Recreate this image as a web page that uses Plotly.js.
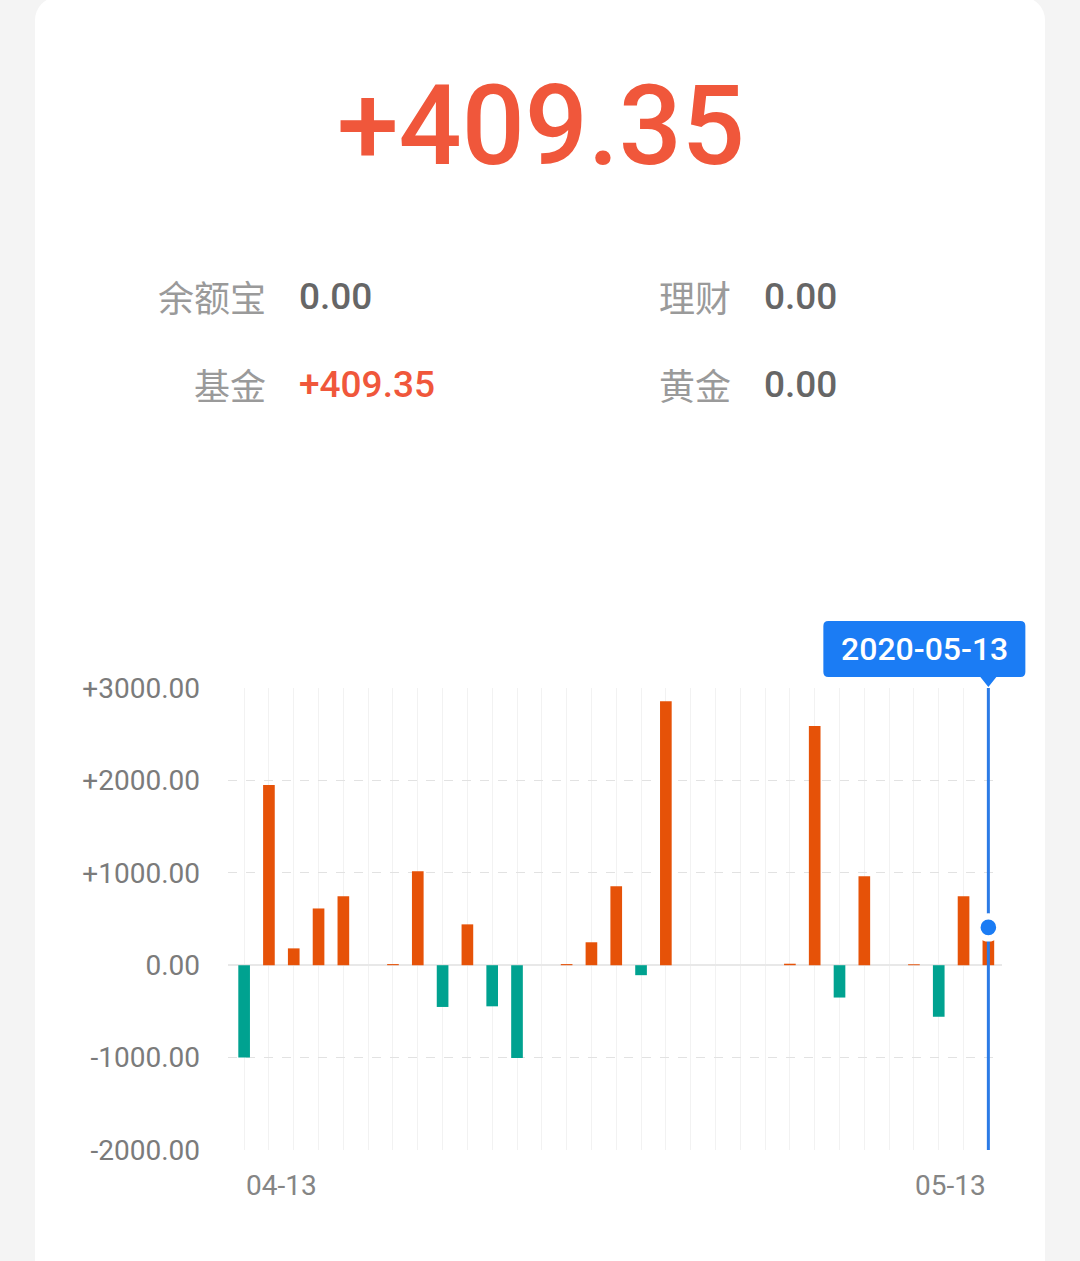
<!DOCTYPE html>
<html>
<head>
<meta charset="utf-8">
<script src="https://cdn.plot.ly/plotly-3.0.1.min.js"></script>
<style>
  html, body { margin: 0; padding: 0; background: #f4f4f4; }
  body { width: 1080px; height: 1261px; position: relative; overflow: hidden; }
  #card { position: absolute; left: 35px; top: -3px; width: 1010px; height: 1300px; background: #ffffff; border-radius: 23px; }
  #chart { position: absolute; left: 0; top: 0; width: 1080px; height: 1261px; }
</style>
</head>
<body>
<div id="card"></div>
<div id="chart"></div>
<script>
// ---- data ----
const dates = ["2020-04-13","2020-04-14","2020-04-15","2020-04-16","2020-04-17","2020-04-18","2020-04-19",
               "2020-04-20","2020-04-21","2020-04-22","2020-04-23","2020-04-24","2020-04-25","2020-04-26",
               "2020-04-27","2020-04-28","2020-04-29","2020-04-30","2020-05-01","2020-05-02","2020-05-03",
               "2020-05-04","2020-05-05","2020-05-06","2020-05-07","2020-05-08","2020-05-09","2020-05-10",
               "2020-05-11","2020-05-12","2020-05-13"];
const dailyProfit = [-1000, 1950, 182, 614, 746, null, 12,
                     1018, -452, 442, -445, -1003, null, 12,
                     248, 854, -108, 2856, null, null, null,
                     null, 16, 2588, -350, 962, null, 10,
                     -558, 746, 409.35];
const yTickVals = [-2000, -1000, 0, 1000, 2000, 3000];
const yTickText = ["-2000.00", "-1000.00", "0.00", "+1000.00", "+2000.00", "+3000.00"];
const xTickText = ["04-13", "05-13"];
const totalText = "+409.35";
const itemLabels = ["余额宝", "理财", "基金", "黄金"];
const itemValues = ["0.00", "0.00", "+409.35", "0.00"];
const selectedLabel = "2020-05-13";

// ---- styles / layout geometry ----
const W = 1080, H = 1261;
const M = { l: 228, r: 78, t: 688, b: 111 };
const PW = W - M.l - M.r, PH = H - M.t - M.b;
const px = x => (x - M.l) / PW;
const py = y => (M.t + PH - y) / PH;

const UP = '#e65208', DOWN = '#00a290', RED = '#f0573b', BLUE = '#1b7cf4';
const FONT = 'Roboto, "Noto Sans CJK SC", sans-serif';
const CJK = '"Noto Sans CJK SC", Roboto, sans-serif';

const lastIdx = dates.length - 1;
const lastDate = dates[lastIdx];
const lastVal = dailyProfit[lastIdx];
const yMin = yTickVals[0], yMax = yTickVals[yTickVals.length - 1];
const xRange = [-0.65, lastIdx + 0.55];
const lastPaperX = (lastIdx - xRange[0]) / (xRange[1] - xRange[0]);

const barColors = dailyProfit.map(v => (v !== null && v < 0) ? DOWN : UP);

const traces = [
  {
    type: 'bar', x: dates, y: dailyProfit,
    marker: { color: barColors, line: { width: 0 } },
    hoverinfo: 'skip'
  },
  {
    type: 'scatter', mode: 'lines', x: [lastDate, lastDate], y: [yMin, yMax],
    line: { color: '#2b7be6', width: 3 }, hoverinfo: 'skip'
  },
  {
    type: 'scatter', mode: 'markers', x: [lastDate], y: [lastVal],
    marker: { size: 22, color: BLUE, line: { color: '#ffffff', width: 6.4 } },
    cliponaxis: false, hoverinfo: 'skip'
  }
];

const annotations = [];
// big total
annotations.push({ xref: 'paper', yref: 'paper', x: px(541), y: py(126), xanchor: 'center', yanchor: 'middle',
  text: totalText, showarrow: false, font: { family: FONT, size: 111, weight: 500, color: RED } });
// summary items
const itemPos = [
  { lx: 268, vx: 297, y: 296 },
  { lx: 733, vx: 762, y: 296 },
  { lx: 268, vx: 297, y: 384 },
  { lx: 733, vx: 762, y: 384 }
];
itemLabels.forEach((lab, i) => {
  const p = itemPos[i];
  annotations.push({ xref: 'paper', yref: 'paper', x: px(p.lx), y: py(p.y), xanchor: 'right', yanchor: 'middle',
    text: lab, showarrow: false, font: { family: CJK, size: 36, color: '#9a9a9a' } });
  annotations.push({ xref: 'paper', yref: 'paper', x: px(p.vx), y: py(p.y), xanchor: 'left', yanchor: 'middle',
    text: itemValues[i], showarrow: false,
    font: { family: FONT, size: 37, weight: 500, color: itemValues[i].startsWith('+') ? RED : '#666666' } });
});
// x tick labels (first left-aligned, last right-aligned)
annotations.push({ xref: 'x', yref: 'paper', x: dates[0], y: 0, xanchor: 'left', yanchor: 'top', yshift: -17,
  text: xTickText[0], showarrow: false, font: { family: FONT, size: 28, color: '#858585' } });
annotations.push({ xref: 'x', yref: 'paper', x: lastDate, y: 0, xanchor: 'right', yanchor: 'top', yshift: -17,
  text: xTickText[1], showarrow: false, font: { family: FONT, size: 28, color: '#858585' } });
// tooltip text
annotations.push({ xref: 'paper', yref: 'paper', x: lastPaperX, y: 1, xanchor: 'center', yanchor: 'middle',
  xshift: -64, yshift: 39, text: selectedLabel, showarrow: false,
  font: { family: FONT, size: 32, weight: 500, color: '#ffffff' } });

const shapes = [
  {
    type: 'path', xref: 'paper', yref: 'paper', xsizemode: 'pixel', ysizemode: 'pixel',
    xanchor: lastPaperX, yanchor: 1,
    path: 'M -160 11 L -8 11 L 0 1 L 8 11 L 32 11 Q 37 11 37 16 L 37 62 Q 37 67 32 67 L -160 67 Q -165 67 -165 62 L -165 16 Q -165 11 -160 11 Z',
    fillcolor: BLUE, line: { width: 0 }, layer: 'above'
  }
];

const layout = {
  width: W, height: H,
  margin: M,
  paper_bgcolor: 'rgba(0,0,0,0)', plot_bgcolor: 'rgba(0,0,0,0)',
  showlegend: false,
  bargap: 0.53,
  xaxis: {
    type: 'category', categoryorder: 'array', categoryarray: dates,
    range: xRange, fixedrange: true,
    tickvals: dates, showticklabels: false, ticks: '',
    showgrid: true, gridcolor: '#f2f2f2', gridwidth: 1,
    zeroline: false, showline: false
  },
  yaxis: {
    range: [yMin, yMax], fixedrange: true,
    tickvals: yTickVals, ticktext: yTickText, ticks: '',
    ticklabelstandoff: 27,
    tickfont: { family: FONT, size: 28, color: '#7b7b7b' },
    showgrid: true, gridcolor: '#e2e2e2', gridwidth: 1, griddash: 'dash',
    zeroline: true, zerolinecolor: '#e8e8e8', zerolinewidth: 2,
    showline: false
  },
  annotations: annotations,
  shapes: shapes
};

Plotly.newPlot('chart', traces, layout, { staticPlot: true, displayModeBar: false });
</script>
</body>
</html>
